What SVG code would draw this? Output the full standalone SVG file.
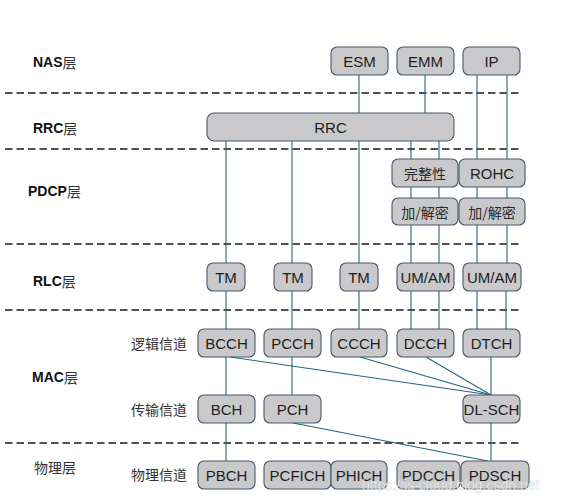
<svg xmlns="http://www.w3.org/2000/svg" width="578" height="503" viewBox="0 0 578 503">
<style>
.bg{fill:#ffffff}
.sep{stroke:#1a1a1a;stroke-width:1.3;stroke-dasharray:7.5 4;fill:none}
.box{fill:#c9c9cb;stroke:#46596a;stroke-width:1.1}
.t{font-family:"Liberation Sans",Arial,"Noto Sans CJK SC",sans-serif;font-size:15px;fill:#1e1e1e;text-anchor:middle;dominant-baseline:central}
.tc{font-family:"Noto Sans CJK SC","Liberation Sans",sans-serif;font-size:14px;fill:#2a2a2a;text-anchor:middle;dominant-baseline:central}
.lay{font-family:"Liberation Sans",Arial,"Noto Sans CJK SC",sans-serif;font-size:14px;font-weight:bold;fill:#111;dominant-baseline:central}
.cj{font-family:"Noto Sans CJK SC",sans-serif;font-weight:normal;fill:#333}
.ch{font-family:"Noto Sans CJK SC",sans-serif;font-size:14px;fill:#333;dominant-baseline:central}
.c{stroke:#24657d;stroke-width:1.1;fill:none}
.wm{font-family:"Liberation Sans",Arial,sans-serif;font-size:14px;fill:#ffffff;fill-opacity:0.75;stroke:#b8b8b8;stroke-width:0.4;stroke-opacity:0.6}
</style>
<rect class="bg" x="0" y="0" width="578" height="503"/>
<g id="separators">
<line class="sep" x1="5" y1="93" x2="522" y2="93"/>
<line class="sep" x1="5" y1="149" x2="522" y2="149"/>
<line class="sep" x1="5" y1="244" x2="522" y2="244"/>
<line class="sep" x1="5" y1="310" x2="522" y2="310"/>
<line class="sep" x1="5" y1="443" x2="522" y2="443"/>
</g>
<g id="layer-labels">
<text class="lay" x="33" y="62">NAS<tspan class="cj">层</tspan></text>
<text class="lay" x="33" y="128">RRC<tspan class="cj">层</tspan></text>
<text class="lay" x="28" y="191">PDCP<tspan class="cj">层</tspan></text>
<text class="lay" x="33" y="281">RLC<tspan class="cj">层</tspan></text>
<text class="lay" x="32" y="377">MAC<tspan class="cj">层</tspan></text>
<text class="ch" x="34" y="467">物理层</text>
<text class="ch" x="131" y="343">逻辑信道</text>
<text class="ch" x="131" y="409">传输信道</text>
<text class="ch" x="131" y="474">物理信道</text>
</g>
<g id="connectors">
<line class="c" x1="359" y1="75" x2="359" y2="113"/>
<line class="c" x1="425" y1="75" x2="425" y2="113"/>
<line class="c" x1="477" y1="75" x2="477" y2="159"/>
<line class="c" x1="507" y1="75" x2="507" y2="159"/>
<line class="c" x1="226" y1="141" x2="226" y2="263"/>
<line class="c" x1="292" y1="141" x2="292" y2="263"/>
<line class="c" x1="359" y1="141" x2="359" y2="263"/>
<line class="c" x1="411" y1="141" x2="411" y2="159"/>
<line class="c" x1="439" y1="141" x2="439" y2="159"/>
<line class="c" x1="411" y1="187" x2="411" y2="198"/>
<line class="c" x1="439" y1="187" x2="439" y2="198"/>
<line class="c" x1="477" y1="187" x2="477" y2="198"/>
<line class="c" x1="507" y1="187" x2="507" y2="198"/>
<line class="c" x1="411" y1="225" x2="411" y2="263"/>
<line class="c" x1="439" y1="225" x2="439" y2="263"/>
<line class="c" x1="477" y1="225" x2="477" y2="263"/>
<line class="c" x1="507" y1="225" x2="507" y2="263"/>
<line class="c" x1="226" y1="291" x2="226" y2="329"/>
<line class="c" x1="292" y1="291" x2="292" y2="329"/>
<line class="c" x1="359" y1="291" x2="359" y2="329"/>
<line class="c" x1="411" y1="291" x2="411" y2="329"/>
<line class="c" x1="439" y1="291" x2="439" y2="329"/>
<line class="c" x1="477" y1="291" x2="477" y2="329"/>
<line class="c" x1="506" y1="291" x2="506" y2="329"/>
<line class="c" x1="226" y1="357" x2="226" y2="395"/>
<line class="c" x1="230" y1="357" x2="491" y2="395"/>
<line class="c" x1="292" y1="357" x2="292" y2="395"/>
<line class="c" x1="360" y1="357" x2="491" y2="395"/>
<line class="c" x1="426" y1="357" x2="491" y2="395"/>
<line class="c" x1="491" y1="357" x2="491" y2="395"/>
<line class="c" x1="226" y1="423" x2="226" y2="461"/>
<line class="c" x1="293" y1="423" x2="488" y2="461"/>
<line class="c" x1="491" y1="423" x2="491" y2="461"/>
</g>
<g id="ESM"><rect class="box" x="331" y="47" width="57" height="28" rx="6"/><text class="t" x="359.5" y="61">ESM</text></g>
<g id="EMM"><rect class="box" x="397" y="47" width="57" height="28" rx="6"/><text class="t" x="425.5" y="61">EMM</text></g>
<g id="IP"><rect class="box" x="463" y="47" width="57" height="28" rx="6"/><text class="t" x="491.5" y="61">IP</text></g>
<g id="RRC"><rect class="box" x="207" y="113" width="247" height="28" rx="7"/><text class="t" x="330.5" y="127">RRC</text></g>
<g id="integrity"><rect class="box" x="392" y="159" width="66" height="28" rx="6"/><text class="tc" x="425" y="173">完整性</text></g>
<g id="ROHC"><rect class="box" x="459" y="159" width="66" height="28" rx="6"/><text class="t" x="492" y="173">ROHC</text></g>
<g id="cipher1"><rect class="box" x="392" y="198" width="66" height="27" rx="6"/><text class="tc" x="425" y="211.5">加/解密</text></g>
<g id="cipher2"><rect class="box" x="459" y="198" width="66" height="27" rx="6"/><text class="tc" x="492" y="211.5">加/解密</text></g>
<g id="TM1"><rect class="box" x="207" y="263" width="38" height="28" rx="6"/><text class="t" x="226" y="277">TM</text></g>
<g id="TM2"><rect class="box" x="274" y="263" width="38" height="28" rx="6"/><text class="t" x="293" y="277">TM</text></g>
<g id="TM3"><rect class="box" x="340" y="263" width="38" height="28" rx="6"/><text class="t" x="359" y="277">TM</text></g>
<g id="UMAM1"><rect class="box" x="397" y="263" width="57" height="28" rx="6"/><text class="t" x="425.5" y="277">UM/AM</text></g>
<g id="UMAM2"><rect class="box" x="463" y="263" width="58" height="28" rx="6"/><text class="t" x="492" y="277">UM/AM</text></g>
<g id="BCCH"><rect class="box" x="198" y="329" width="57" height="28" rx="6"/><text class="t" x="226.5" y="343">BCCH</text></g>
<g id="PCCH"><rect class="box" x="264" y="329" width="57" height="28" rx="6"/><text class="t" x="292.5" y="343">PCCH</text></g>
<g id="CCCH"><rect class="box" x="331" y="329" width="56" height="28" rx="6"/><text class="t" x="359" y="343">CCCH</text></g>
<g id="DCCH"><rect class="box" x="397" y="329" width="57" height="28" rx="6"/><text class="t" x="425.5" y="343">DCCH</text></g>
<g id="DTCH"><rect class="box" x="463" y="329" width="57" height="28" rx="6"/><text class="t" x="491.5" y="343">DTCH</text></g>
<g id="BCH"><rect class="box" x="198" y="395" width="57" height="28" rx="6"/><text class="t" x="226.5" y="409">BCH</text></g>
<g id="PCH"><rect class="box" x="264" y="395" width="57" height="28" rx="6"/><text class="t" x="292.5" y="409">PCH</text></g>
<g id="DLSCH"><rect class="box" x="463" y="395" width="57" height="28" rx="6"/><text class="t" x="491.5" y="409">DL-SCH</text></g>
<g id="PBCH"><rect class="box" x="198" y="461" width="57" height="28" rx="6"/><text class="t" x="226.5" y="475">PBCH</text></g>
<g id="PCFICH"><rect class="box" x="264" y="461" width="67" height="28" rx="6"/><text class="t" x="297.5" y="475">PCFICH</text></g>
<g id="PHICH"><rect class="box" x="331" y="461" width="56" height="28" rx="6"/><text class="t" x="359" y="475">PHICH</text></g>
<g id="PDCCH"><rect class="box" x="397" y="461" width="63" height="28" rx="6"/><text class="t" x="428.5" y="475">PDCCH</text></g>
<g id="PDSCH"><rect class="box" x="461" y="461" width="68" height="28" rx="6"/><text class="t" x="495" y="475">PDSCH</text></g>
<text class="wm" x="362" y="490">https://is-cloud.blog.csdn.net</text>
</svg>
